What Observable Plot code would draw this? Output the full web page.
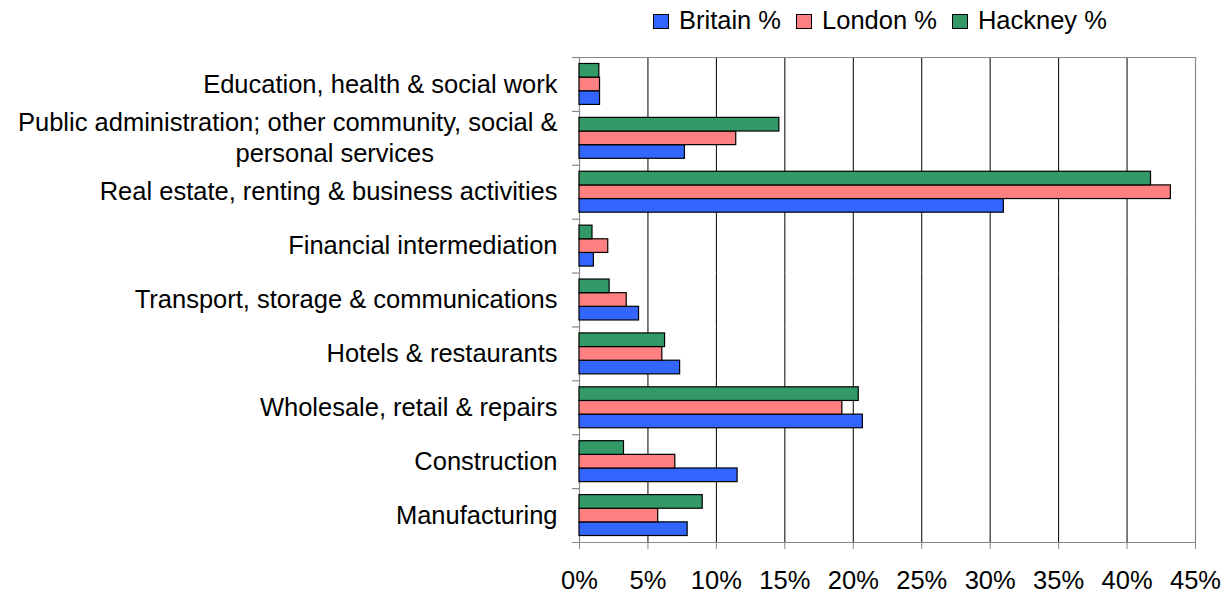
<!DOCTYPE html>
<html>
<head>
<meta charset="utf-8">
<script src="https://cdn.jsdelivr.net/npm/d3@7"></script>
<script src="https://cdn.jsdelivr.net/npm/@observablehq/plot@0.6"></script>
<style>
  html, body { margin: 0; padding: 0; background: #fff; }
  #wrap { position: relative; width: 1232px; height: 594px; font-family: "Liberation Sans", Arial, sans-serif; }
  #wrap svg { position: absolute; left: 0; top: 0; }
  #legend { position: absolute; left: 653px; top: 6px; display: flex; align-items: center; font-size: 25.5px; line-height: 29px; color: #000; }
  .item { display: flex; align-items: center; margin-right: 15px; }
  .sw { width: 14px; height: 13px; border: 1px solid #000; margin-right: 10px; margin-top: 2px; }
</style>
</head>
<body>
<div id="wrap"><div id="legend"></div></div>
<script>
const categories = [
  "Education, health & social work",
  "Public administration; other community, social &\npersonal services",
  "Real estate, renting & business activities",
  "Financial intermediation",
  "Transport, storage & communications",
  "Hotels & restaurants",
  "Wholesale, retail & repairs",
  "Construction",
  "Manufacturing"
];
const seriesNames = ["Britain %", "London %", "Hackney %"];
const seriesColors = ["#3366FF", "#FF8080", "#339966"];
const britain = [1.5, 7.7, 31.0, 1.05, 4.35, 7.35, 20.7, 11.55, 7.9];
const london  = [1.5, 11.45, 43.2, 2.1, 3.45, 6.05, 19.2, 7.0, 5.75];
const hackney = [1.45, 14.6, 41.75, 0.95, 2.2, 6.25, 20.4, 3.25, 9.0];
const xTicks = [0, 5, 10, 15, 20, 25, 30, 35, 40, 45];

const seriesValues = [britain, london, hackney];
const rows = [];
categories.forEach((c, i) => seriesNames.forEach((s, j) => rows.push({cat: c, series: s, value: seriesValues[j][i]})));

const singleLine = categories.filter(c => !c.includes("\n"));
const wrapped = categories.filter(c => c.includes("\n"));

const W = 1232, H = 594, mL = 579, mR = 37, mT = 57, mB = 52;
const frameW = W - mL - mR;
const FS = 25.5;

const chart = Plot.plot({
  width: W, height: H,
  marginLeft: mL, marginRight: mR, marginTop: mT, marginBottom: mB,
  style: {fontFamily: '"Liberation Sans", Arial, sans-serif', fontSize: FS + "px", background: "transparent", color: "#000"},
  x: {domain: [0, 45], label: null},
  fy: {domain: categories, padding: 0, round: false, axis: null},
  y: {domain: ["Hackney %", "London %", "Britain %"], paddingInner: 0, paddingOuter: 0.475, round: false, axis: null},
  color: {domain: seriesNames, range: seriesColors},
  marks: [
    Plot.ruleX(xTicks.filter(t => t > 0 && t < 45), {stroke: "#000", strokeWidth: 1}),
    Plot.ruleX([0, 45], {stroke: "#888", strokeWidth: 1.2}),
    Plot.frame({anchor: "top", facetAnchor: "top", stroke: "#888", strokeWidth: 1.2}),
    Plot.frame({anchor: "top", stroke: "#888", strokeWidth: 1.2, insetLeft: -7, insetRight: frameW}),
    Plot.frame({anchor: "bottom", facetAnchor: "bottom", stroke: "#888", strokeWidth: 1.2, insetLeft: -7}),
    Plot.barX(rows, {x: "value", y: "series", fy: "cat", fill: "series", stroke: "#000", strokeWidth: 1.2}),
    Plot.text(singleLine, {fy: d => d, text: d => d, frameAnchor: "left", textAnchor: "end", dx: -22, fontSize: FS, fill: "#000"}),
    Plot.text(wrapped, {fy: d => d, text: d => d.split("\n")[0], frameAnchor: "left", textAnchor: "end", dx: -22, dy: -16, fontSize: FS, fill: "#000"}),
    Plot.text(wrapped, {fy: d => d, text: d => d.split("\n")[1], frameAnchor: "left", textAnchor: "start", dx: -344, dy: 15, fontSize: FS, fill: "#000"}),
    Plot.axisX({ticks: xTicks, tickFormat: d => d + "%", tickSize: 7, tickPadding: 21, fontSize: FS, stroke: "#888", fill: "#000", label: null})
  ]
});
document.getElementById("wrap").prepend(chart);

const legend = document.getElementById("legend");
seriesNames.forEach((s, i) => {
  const item = document.createElement("div");
  item.className = "item";
  const sw = document.createElement("div");
  sw.className = "sw";
  sw.style.background = seriesColors[i];
  const t = document.createElement("span");
  t.textContent = s;
  item.appendChild(sw);
  item.appendChild(t);
  legend.appendChild(item);
});
</script>
</body>
</html>
